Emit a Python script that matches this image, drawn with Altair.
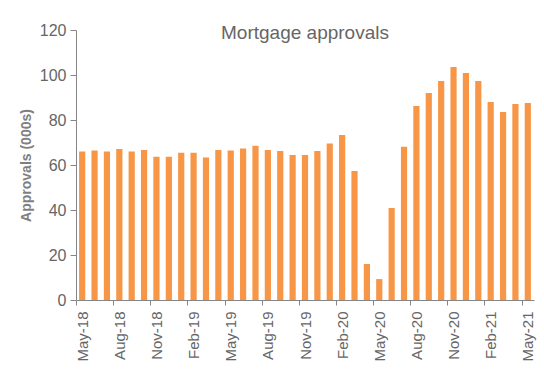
import altair as alt
import pandas as pd

months = ["May-18","Jun-18","Jul-18","Aug-18","Sep-18","Oct-18","Nov-18","Dec-18",
          "Jan-19","Feb-19","Mar-19","Apr-19","May-19","Jun-19","Jul-19","Aug-19",
          "Sep-19","Oct-19","Nov-19","Dec-19","Jan-20","Feb-20","Mar-20","Apr-20",
          "May-20","Jun-20","Jul-20","Aug-20","Sep-20","Oct-20","Nov-20","Dec-20",
          "Jan-21","Feb-21","Mar-21","Apr-21","May-21"]
approvals = [66.0, 66.4, 66.0, 67.1, 66.0, 66.7, 63.7, 63.7,
             65.5, 65.5, 63.3, 66.7, 66.4, 67.3, 68.6, 66.7,
             66.2, 64.4, 64.4, 66.2, 69.6, 73.3, 57.3, 16.0,
             9.3, 40.9, 68.1, 86.2, 92.0, 97.3, 103.6, 100.9,
             97.3, 88.0, 83.6, 87.1, 87.6]
tick_labels = ["May-18","Aug-18","Nov-18","Feb-19","May-19","Aug-19","Nov-19",
               "Feb-20","May-20","Aug-20","Nov-20","Feb-21","May-21"]
y_ticks = [0, 20, 40, 60, 80, 100, 120]

df = pd.DataFrame({"month": months, "approvals": approvals})

W, H = 458, 270
step = W / (len(months) - 0.5 + 0.5)
half = step / 2

grey = "#666666"
axis_grey = "#868686"
font = "Liberation Sans"

chart = alt.Chart(df).mark_bar(color="#F79646").encode(
    x=alt.X("month:N", sort=months, title=None,
            scale=alt.Scale(paddingInner=0.5, paddingOuter=0.25),
            axis=alt.Axis(values=tick_labels, labelAngle=-90, labelFontSize=15,
                          labelColor=grey, labelFont=font, tickOffset=-half,
                          labelOffset=half, tickSize=5, tickColor=axis_grey,
                          domainColor=axis_grey, labelPadding=6)),
    y=alt.Y("approvals:Q", title="Approvals (000s)",
            scale=alt.Scale(domain=[0, 120], nice=False),
            axis=alt.Axis(values=y_ticks, grid=False, labelFontSize=16,
                          labelColor=grey, labelFont=font, tickSize=6,
                          tickColor=axis_grey, domainColor=axis_grey,
                          titleFont=font, titleFontSize=14, titleFontWeight="bold",
                          titleColor="#7F7F7F", titlePadding=6, labelPadding=4)),
).properties(
    width=W, height=H,
    title=alt.TitleParams("Mortgage approvals", fontSize=19, font=font,
                          color=grey, fontWeight="normal", anchor="middle",
                          dy=25),
    autosize=alt.AutoSizeParams(type="none"),
    padding={"left": 76, "top": 30, "right": 10, "bottom": 77},
).configure_view(stroke=None)

chart.save("out.html", embed_options={"renderer": "svg", "actions": False})
